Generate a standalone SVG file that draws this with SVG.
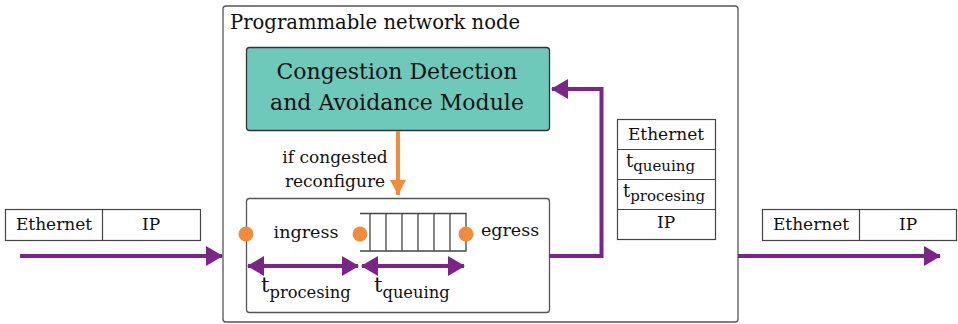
<svg xmlns="http://www.w3.org/2000/svg" width="958" height="324" viewBox="0 0 958 324">
<style>
text{font-family:"DejaVu Serif","Liberation Serif",serif;fill:#111}
.box{fill:#fff;stroke:#555;stroke-width:1.3}
.pk{fill:#fff;stroke:#444;stroke-width:1.2}
.pl{stroke:#7b2589;stroke-width:4;fill:none}
.dot{fill:#f28c3c}
.q{stroke:#444;stroke-width:1.3;fill:none}
.t16{font-size:17px}
.mid{text-anchor:middle}
</style>
<defs>
<marker id="ap" markerUnits="userSpaceOnUse" markerWidth="18" markerHeight="22" refX="16" refY="11" orient="auto-start-reverse" viewBox="0 0 18 22"><path d="M0,1 L17,11 L0,21 Z" fill="#7b2589"/></marker>
<marker id="ao" markerUnits="userSpaceOnUse" markerWidth="18" markerHeight="18" refX="15" refY="9" orient="auto" viewBox="0 0 18 18"><path d="M0,1 L15,9 L0,17 Z" fill="#f28c3c"/></marker>
</defs>
<g id="node-outer"><rect class="box" x="223" y="6" width="515" height="316" rx="3"/>
<text x="230" y="29" font-size="19.6">Programmable network node</text></g>
<g id="node-module"><rect x="246.5" y="47.5" width="303" height="83" rx="3" fill="#6fc9bb" stroke="#333" stroke-width="1.3"/>
<text class="mid" x="397" y="79" font-size="22">Congestion Detection</text>
<text class="mid" x="397" y="110" font-size="22">and Avoidance Module</text></g>
<g id="node-pipeline"><rect class="box" x="246.5" y="198.5" width="303" height="114" rx="3"/>
<text class="mid" x="306" y="238" font-size="17.5">ingress</text>
<text class="mid" x="510" y="236" font-size="17.5">egress</text>
<path class="q" d="M360,213.5 H466 V251 H360 M370,213.5 V251 M386,213.5 V251 M402,213.5 V251 M418,213.5 V251 M434,213.5 V251 M450,213.5 V251"/>
<circle class="dot" cx="246" cy="234" r="7.5"/><circle class="dot" cx="360" cy="234" r="7.5"/><circle class="dot" cx="466" cy="234" r="7.5"/>
<text x="261" y="292" font-size="21">t<tspan font-size="16.3" dy="6">procesing</tspan></text>
<text x="374" y="292" font-size="21">t<tspan font-size="16.3" dy="6">queuing</tspan></text></g>
<g id="node-packet-in"><rect class="pk" x="5.5" y="209.5" width="195" height="31"/><path class="pk" d="M102.5,209.5 V240.5"/>
<text class="mid t16" x="54" y="230">Ethernet</text><text class="mid t16" x="151" y="230">IP</text></g>
<g id="node-packet-out"><rect class="pk" x="762.5" y="209.5" width="194" height="31"/><path class="pk" d="M859.5,209.5 V240.5"/>
<text class="mid t16" x="811" y="230">Ethernet</text><text class="mid t16" x="908" y="230">IP</text></g>
<g id="node-packet-mid"><rect class="pk" x="617.5" y="119.5" width="98" height="120"/><path class="pk" d="M617.5,149.5 H715.5 M617.5,179.5 H715.5 M617.5,209.5 H715.5"/>
<text class="mid t16" x="666" y="140">Ethernet</text>
<text x="626" y="167" font-size="18">t<tspan font-size="15" dy="4">queuing</tspan></text>
<text x="623" y="197" font-size="18">t<tspan font-size="15" dy="4">procesing</tspan></text>
<text class="mid t16" x="666" y="228">IP</text></g>
<g id="connectors">
<path class="pl" d="M20,256 H222" marker-end="url(#ap)"/>
<path class="pl" d="M738,256 H940" marker-end="url(#ap)"/>
<path class="pl" d="M549,256 H601.5 V89 H552" marker-end="url(#ap)"/>
<path class="pl" d="M248,266 H358" marker-start="url(#ap)" marker-end="url(#ap)"/>
<path class="pl" d="M362,266 H464" marker-start="url(#ap)" marker-end="url(#ap)"/>
<path d="M398,131 V195" stroke="#f28c3c" stroke-width="4" fill="none" marker-end="url(#ao)"/>
<text class="mid" x="335" y="163" font-size="17">if congested</text>
<text class="mid" x="335" y="187" font-size="17">reconfigure</text>
</g>
</svg>
